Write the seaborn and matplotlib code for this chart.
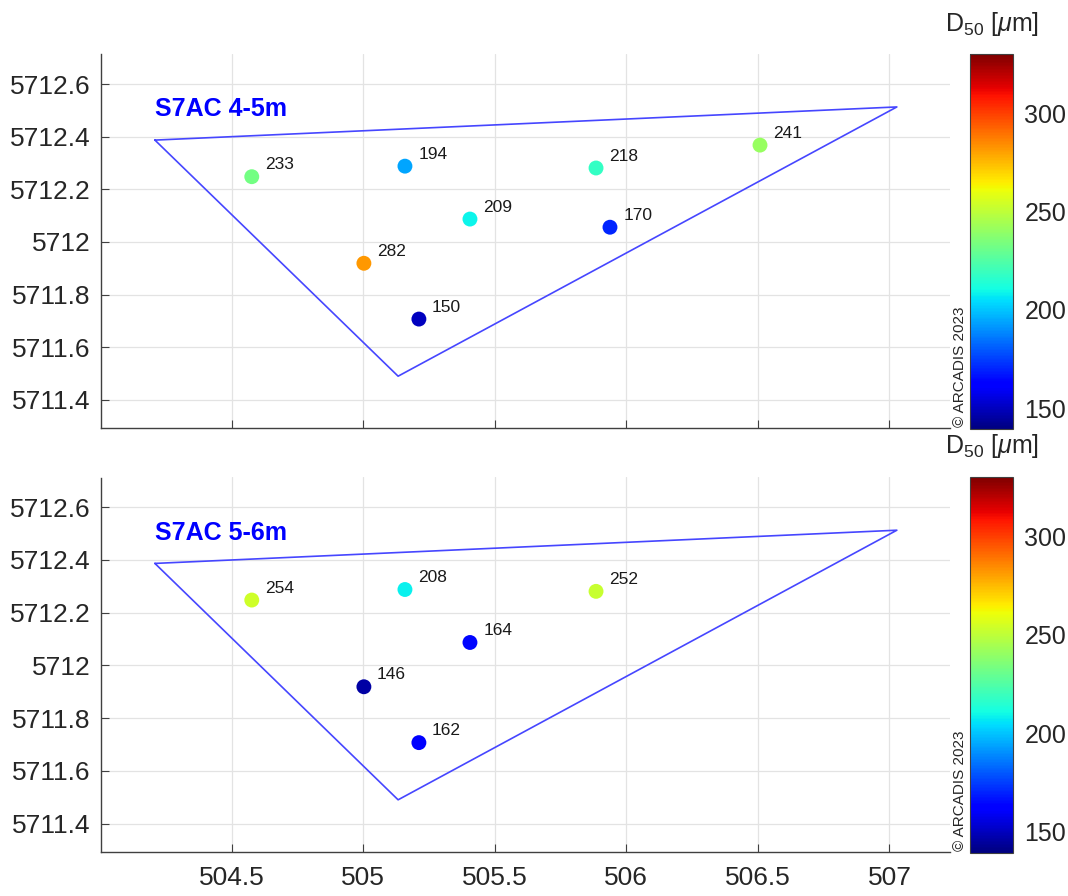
import numpy as np
import pandas as pd
import matplotlib
matplotlib.use("Agg")
import matplotlib.pyplot as plt
import seaborn as sns
from matplotlib.colors import Normalize
from matplotlib.cm import ScalarMappable

# ---------------- data ----------------
pt_x = [504.577, 505.159, 505.406, 505.003, 505.212, 505.885, 505.938, 506.508]
pt_y = [5712.248, 5712.288, 5712.087, 5711.919, 5711.707, 5712.281, 5712.056, 5712.368]
d50_4_5 = [233, 194, 209, 282, 150, 218, 170, 241]
d50_5_6 = [254, 208, 164, 146, 162, 252]

poly_x = [504.209, 507.028, 505.133, 504.209]
poly_y = [5712.387, 5712.513, 5711.490, 5712.387]

titles = ["S7AC 4-5m", "S7AC 5-6m"]
xticks = [504.5, 505.0, 505.5, 506.0, 506.5, 507.0]
xtick_labels = ["504.5", "505", "505.5", "506", "506.5", "507"]
yticks = [5711.4, 5711.6, 5711.8, 5712.0, 5712.2, 5712.4, 5712.6]
ytick_labels = ["5711.4", "5711.6", "5711.8", "5712", "5712.2", "5712.4", "5712.6"]
cb_ticks = [150, 200, 250, 300]
clim = (139.3, 330.0)
xlim = (504.003, 507.228)
ylim = (5711.292, 5712.713)

# ---------------- style ----------------
sns.set_theme(style="white")
plt.rcParams["font.family"] = ["Liberation Sans", "DejaVu Sans"]
plt.rcParams["mathtext.fontset"] = "custom"
plt.rcParams["mathtext.rm"] = "Liberation Sans"
plt.rcParams["mathtext.it"] = "Liberation Sans:italic"
DARK = "#262626"

fig = plt.figure(figsize=(10.68, 8.96), dpi=100)
W, H = 1068.0, 896.0

def fx(px):
    return px / W

def fy(py):
    return (H - py) / H

norm = Normalize(vmin=clim[0], vmax=clim[1])
cmap = matplotlib.colormaps["jet"]

panels = [
    dict(top=54.3, bottom=428.3, vals=d50_4_5, title=titles[0], show_x=False,
         cb_top=54.3, cb_bottom=429.3, lab_y=24),
    dict(top=477.5, bottom=852.0, vals=d50_5_6, title=titles[1], show_x=True,
         cb_top=477.5, cb_bottom=852.5, lab_y=446),
]

for p in panels:
    ax = fig.add_axes([fx(100.7), fy(p["bottom"]), fx(949.5) - fx(100.7),
                       fy(p["top"]) - fy(p["bottom"])])
    n = len(p["vals"])
    df = pd.DataFrame({"x": pt_x[:n], "y": pt_y[:n], "d50": p["vals"]})

    ax.plot(poly_x, poly_y, color="#4646ff", lw=1.2, zorder=2)
    sns.scatterplot(data=df, x="x", y="y", hue="d50", palette=cmap,
                    hue_norm=norm, s=115, linewidth=0, legend=False, ax=ax, zorder=3)
    for xv, yv, v in zip(df["x"], df["y"], df["d50"]):
        ax.annotate(str(v), (xv, yv), xytext=(9.5, 8.5), textcoords="offset points",
                    ha="left", va="center", fontsize=12.5, color="#1a1a1a")

    ax.text(poly_x[0], 5712.504, p["title"], color="#0000ff", fontsize=18,
            fontweight="bold", ha="left", va="center")

    ax.set_xlim(*xlim)
    ax.set_ylim(*ylim)
    ax.set_xticks(xticks)
    ax.set_yticks(yticks)
    ax.set_yticklabels(ytick_labels)
    if p["show_x"]:
        ax.set_xticklabels(xtick_labels)
    else:
        ax.set_xticklabels([])
    ax.set_xlabel("")
    ax.set_ylabel("")
    ax.grid(True, color="#e3e3e3", lw=0.9)
    ax.set_axisbelow(True)
    for s in ["top", "right"]:
        ax.spines[s].set_visible(False)
    for s in ["left", "bottom"]:
        ax.spines[s].set_color("#404040")
        ax.spines[s].set_linewidth(1.0)
    ax.tick_params(axis="both", direction="in", length=6, width=0.8,
                   color="#404040", labelsize=19, labelcolor=DARK,
                   bottom=True, left=True, top=False, right=False)
    ax.tick_params(axis="y", pad=7.5)
    ax.tick_params(axis="x", pad=10)

    # colorbar
    cax = fig.add_axes([fx(970.3), fy(p["cb_bottom"]), fx(1013.3) - fx(970.3),
                        fy(p["cb_top"]) - fy(p["cb_bottom"])])
    cb = fig.colorbar(ScalarMappable(norm=norm, cmap=cmap), cax=cax)
    cb.set_ticks(cb_ticks)
    cb.outline.set_edgecolor("#404040")
    cb.outline.set_linewidth(0.8)
    cax.tick_params(direction="in", length=3, width=0.8, color="#404040",
                    labelsize=18, labelcolor=DARK, pad=8, right=True, left=False)
    fig.text(fx(992), fy(p["lab_y"]), r"D$_{50}$ [$\mu$m]", ha="center", va="center",
             fontsize=18, color=DARK)
    fig.text(fx(960), fy(p["cb_bottom"] - 2), "\u00a9 ARCADIS 2023", rotation=90,
             ha="center", va="bottom", fontsize=11, color=DARK)

fig.savefig("out.png", dpi=100, facecolor="white")
